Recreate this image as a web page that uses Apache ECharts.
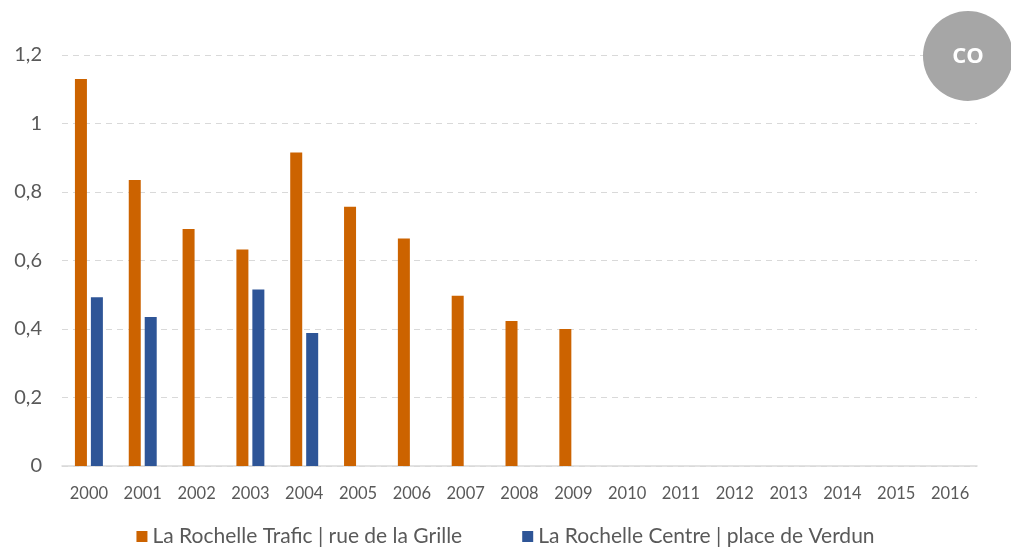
<!DOCTYPE html>
<html>
<head>
<meta charset="utf-8">
<script src="https://cdn.jsdelivr.net/npm/echarts@6/dist/echarts.min.js"></script>
<style>
  html, body { margin: 0; padding: 0; background: #fff; }
  #chart { width: 1011px; height: 552px; }
</style>
</head>
<body>
<div id="chart"></div>
<script>
// Annual CO concentrations, two La Rochelle monitoring stations
const years = ['2000','2001','2002','2003','2004','2005','2006','2007','2008','2009','2010','2011','2012','2013','2014','2015','2016'];
const trafic = [1.13, 0.835, 0.692, 0.632, 0.915, 0.757, 0.664, 0.497, 0.423, 0.4, null, null, null, null, null, null, null];
const centre = [0.493, 0.435, null, 0.515, 0.388, null, null, null, null, null, null, null, null, null, null, null, null];
const seriesNames = ['La Rochelle Trafic | rue de la Grille', 'La Rochelle Centre | place de Verdun'];
const yTicks = [0, 0.2, 0.4, 0.6, 0.8, 1, 1.2];
const badgeText = 'CO';

const chart = echarts.init(document.getElementById('chart'));
const fontFam = 'Lato, "Open Sans", sans-serif';

chart.setOption({
  animation: false,
  color: ['#CC6300', '#2E5597'],
  grid: { left: 62, right: 34, top: 55, bottom: 86, containLabel: false },
  legend: {
    bottom: 0,
    left: 'center',
    itemWidth: 11,
    itemHeight: 11,
    itemGap: 60,
    icon: 'rect',
    textStyle: { fontFamily: fontFam, fontSize: 21, color: '#595959' },
    data: seriesNames
  },
  xAxis: {
    type: 'category',
    data: years,
    axisLine: { lineStyle: { color: '#D9D9D9', width: 1.5 } },
    axisTick: { show: false },
    axisLabel: { color: '#595959', fontSize: 16.5, fontFamily: fontFam, margin: 19 }
  },
  yAxis: {
    type: 'value',
    min: yTicks[0],
    max: yTicks[yTicks.length - 1],
    interval: 0.2,
    axisLine: { show: false },
    axisTick: { show: false },
    splitLine: { lineStyle: { color: '#D9D9D9', type: [6, 5], width: 1 } },
    axisLabel: {
      color: '#595959', fontSize: 20, fontFamily: fontFam, margin: 20,
      formatter: v => String(Math.round(v * 10) / 10).replace('.', ',')
    }
  },
  series: [
    { name: seriesNames[0], type: 'bar', data: trafic, barWidth: 12, barGap: '33%' },
    { name: seriesNames[1], type: 'bar', data: centre, barWidth: 12, barGap: '33%' }
  ],
  graphic: [
    {
      type: 'circle',
      shape: { cx: 968, cy: 56, r: 45 },
      style: { fill: '#A6A6A6' },
      z: 10
    },
    {
      type: 'text',
      x: 968, y: 57,
      style: {
        text: badgeText, fill: '#fff', fontSize: 22, fontWeight: 'bold',
        fontFamily: '"Open Sans", sans-serif', align: 'center', verticalAlign: 'middle'
      },
      z: 11
    }
  ]
});
</script>
</body>
</html>
